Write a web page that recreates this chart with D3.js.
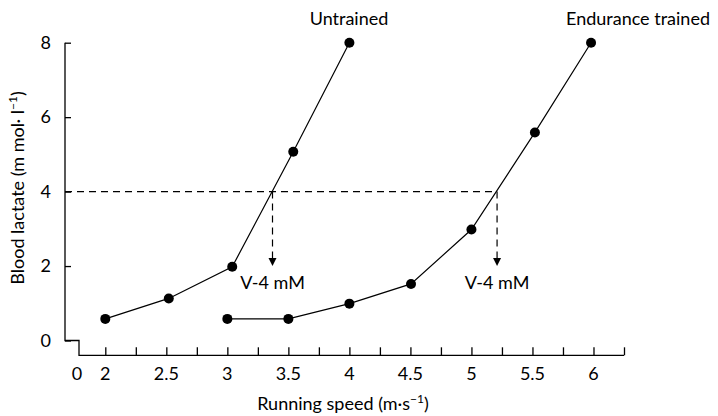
<!DOCTYPE html>
<html><head><meta charset="utf-8">
<script src="https://cdn.jsdelivr.net/npm/d3@7"></script>
<style>
html,body{margin:0;padding:0;background:#fff;}
svg{display:block;font-family:Lato,"Open Sans",sans-serif;}
</style></head>
<body>
<svg id="chart" width="718" height="416"></svg>
<script>
// ---- data ----
const untrainedSpeed = [2, 2.52, 3.04, 3.54, 4.0];
const untrainedLactate = [0.58, 1.13, 1.98, 5.07, 8.0];
const trainedSpeed = [3.0, 3.5, 4.0, 4.505, 5.0, 5.52, 5.98];
const trainedLactate = [0.58, 0.58, 0.99, 1.52, 2.98, 5.59, 8.0];
const seriesNames = ["Untrained", "Endurance trained"];
const v4Speeds = [3.37, 5.21];
const thresholdLactate = 4;
const xTickLabels = ["2", "2.5", "3", "3.5", "4", "4.5", "5", "5.5", "6"];
const xTickValues = [2, 2.5, 3, 3.5, 4, 4.5, 5, 5.5, 6];
const xMinorTicks = [2, 2.25, 2.5, 2.75, 3, 3.25, 3.5, 3.75, 4, 4.25, 4.5, 4.75, 5, 5.25, 5.5, 5.75, 6, 6.25];
const yTickValues = [0, 2, 4, 6, 8];

const svg = d3.select("#chart");
const x = d3.scaleLinear().domain([0, 2, 6.25]).range([78, 105.3, 624]);
const y = d3.scaleLinear().domain([0, 8]).range([340.5, 42.7]);
const xAxisY = 355.3;
const yAxisX = 65;
const fs = 18;

// y axis
const yAxis = d3.axisLeft(y).tickValues(yTickValues).tickSize(-6).tickPadding(14).tickFormat(d3.format("d"));
const gy = svg.append("g").attr("transform", `translate(${yAxisX},0)`).call(yAxis);
gy.select(".domain").remove();
gy.selectAll("line").attr("stroke", "#000").attr("stroke-width", 1.3);
gy.selectAll("text").attr("font-size", fs).attr("font-family", "Lato").attr("fill", "#000");

// broken axis path
svg.append("path")
  .attr("d", `M${yAxisX},${y(8)}V${y(0)}H${x(0)+1}V${xAxisY}H${x(6.25)}`)
  .attr("fill", "none").attr("stroke", "#000").attr("stroke-width", 1.3);

// x axis ticks
const xAxis = d3.axisBottom(x).tickValues(xMinorTicks).tickSize(-8).tickFormat("");
const gx = svg.append("g").attr("transform", `translate(0,${xAxisY})`).call(xAxis);
gx.select(".domain").remove();
gx.selectAll("line").attr("stroke", "#000").attr("stroke-width", 1.3);

// x tick labels
svg.append("g").selectAll("text").data(xTickValues).join("text")
  .attr("x", d => x(d)).attr("y", 380)
  .attr("text-anchor", "middle").attr("font-size", fs).text((d, i) => xTickLabels[i]);
svg.append("text").attr("x", x(0) - 1).attr("y", 380).attr("text-anchor", "middle").attr("font-size", fs).text("0");

// axis titles
svg.append("text").attr("x", 343).attr("y", 410).attr("text-anchor", "middle").attr("font-size", fs)
  .html('Running speed (m·s<tspan dy="-7" font-size="12">−1</tspan><tspan dy="7">)</tspan>');
svg.append("text").attr("transform", "translate(24,188) rotate(-90)").attr("text-anchor", "middle").attr("font-size", fs)
  .html('Blood lactate (m mol· l<tspan dy="-7" font-size="12">−1</tspan><tspan dy="7">)</tspan>');

// threshold dashed lines
svg.append("line").attr("x1", yAxisX).attr("x2", x(v4Speeds[1])).attr("y1", y(thresholdLactate)).attr("y2", y(thresholdLactate))
  .attr("stroke", "#000").attr("stroke-width", 1.2).attr("stroke-dasharray", "7,5");
v4Speeds.forEach(s => {
  svg.append("line").attr("x1", x(s)).attr("x2", x(s)).attr("y1", y(thresholdLactate)).attr("y2", y(2) - 7)
    .attr("stroke", "#000").attr("stroke-width", 1.2).attr("stroke-dasharray", "7,5");
  svg.append("path").attr("d", `M${x(s)-4},${y(2)-8}L${x(s)+4},${y(2)-8}L${x(s)},${y(2)}Z`).attr("fill", "#000");
  svg.append("text").attr("x", x(s)).attr("y", 289).attr("text-anchor", "middle").attr("font-size", fs).text("V-4 mM");
});

// series
const line = d3.line().x(d => x(d[0])).y(d => y(d[1]));
const series = [
  d3.zip(untrainedSpeed, untrainedLactate),
  d3.zip(trainedSpeed, trainedLactate)
];
series.forEach(pts => {
  svg.append("path").datum(pts).attr("d", line).attr("fill", "none").attr("stroke", "#000").attr("stroke-width", 1.2);
  svg.append("g").selectAll("circle").data(pts).join("circle")
    .attr("cx", d => x(d[0])).attr("cy", d => y(d[1])).attr("r", 5).attr("fill", "#000");
});

// series labels
svg.append("text").attr("x", 349).attr("y", 25).attr("text-anchor", "middle").attr("font-size", fs).text(seriesNames[0]);
svg.append("text").attr("x", 638).attr("y", 25).attr("text-anchor", "middle").attr("font-size", fs).text(seriesNames[1]);
</script>
</body></html>
